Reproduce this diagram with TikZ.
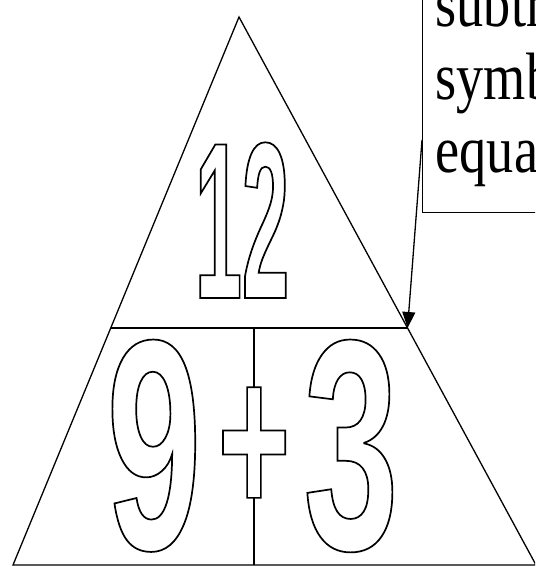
\documentclass[tikz,border=0pt]{standalone}
\usepackage{fontspec}
\setmainfont{Liberation Serif}[FakeStretch=0.81]
\newfontfamily\numfont{Liberation Sans}[FakeStretch=0.57]
\newfontfamily\narrowfont{Liberation Sans}[FakeStretch=0.38]
\usetikzlibrary{arrows.meta,calc}
% outlined digits: fill white, stroke black
\newcommand{\hollow}[1]{\special{pdf:literal direct 2 Tr 0 G 1.7 w}#1}
\tikzset{
  numeral/.style={text=white,inner sep=0pt,anchor=base},
  edge/.style={line width=1.3pt}
}

\begin{document}
\begin{tikzpicture}[x=1pt,y=-1pt]
\useasboundingbox (0,0) rectangle (535,567);
\clip (0,0) rectangle (535,567);
\coordinate (top) at (239,17);
\coordinate (bl) at (13,565);
\coordinate (br) at (536,565);
\coordinate (ml) at ($(top)!0.5675!(bl)$);
\coordinate (mr) at ($(top)!0.5675!(br)$);
\coordinate (mb) at ($(bl)!0.4608!(br)$);
\coordinate (mm) at (mb |- ml);
\draw[edge] (top) -- (bl) -- (br) -- cycle;
\draw[edge] (ml) -- (mr);
\draw[edge] (mm) -- (mb);
% numbers
\node[numeral] (twelve) at (242,298) {\fontsize{223}{223}\narrowfont\bfseries\hollow{12}};
\node[numeral] (nine) at (154,549) {\fontsize{300}{300}\numfont\bfseries\hollow{9}};
\node[numeral] (plus) at (254,515) {\fontsize{218}{218}\numfont\bfseries\hollow{+}};
\node[numeral] (three) at (351,549) {\fontsize{300}{300}\numfont\bfseries\hollow{3}};
% callout
\node[draw,line width=1.3pt,anchor=south west,align=left,text width=150pt,
  inner xsep=13pt,inner ysep=26pt,font=\fontsize{67}{73}\selectfont] (note) at (422,213)
  {subtraction\\symbol\\equals};
\draw[edge,-{Triangle[length=16pt,width=13pt]}] ([yshift=73pt]note.south west) -- (mr);
\end{tikzpicture}
\end{document}
